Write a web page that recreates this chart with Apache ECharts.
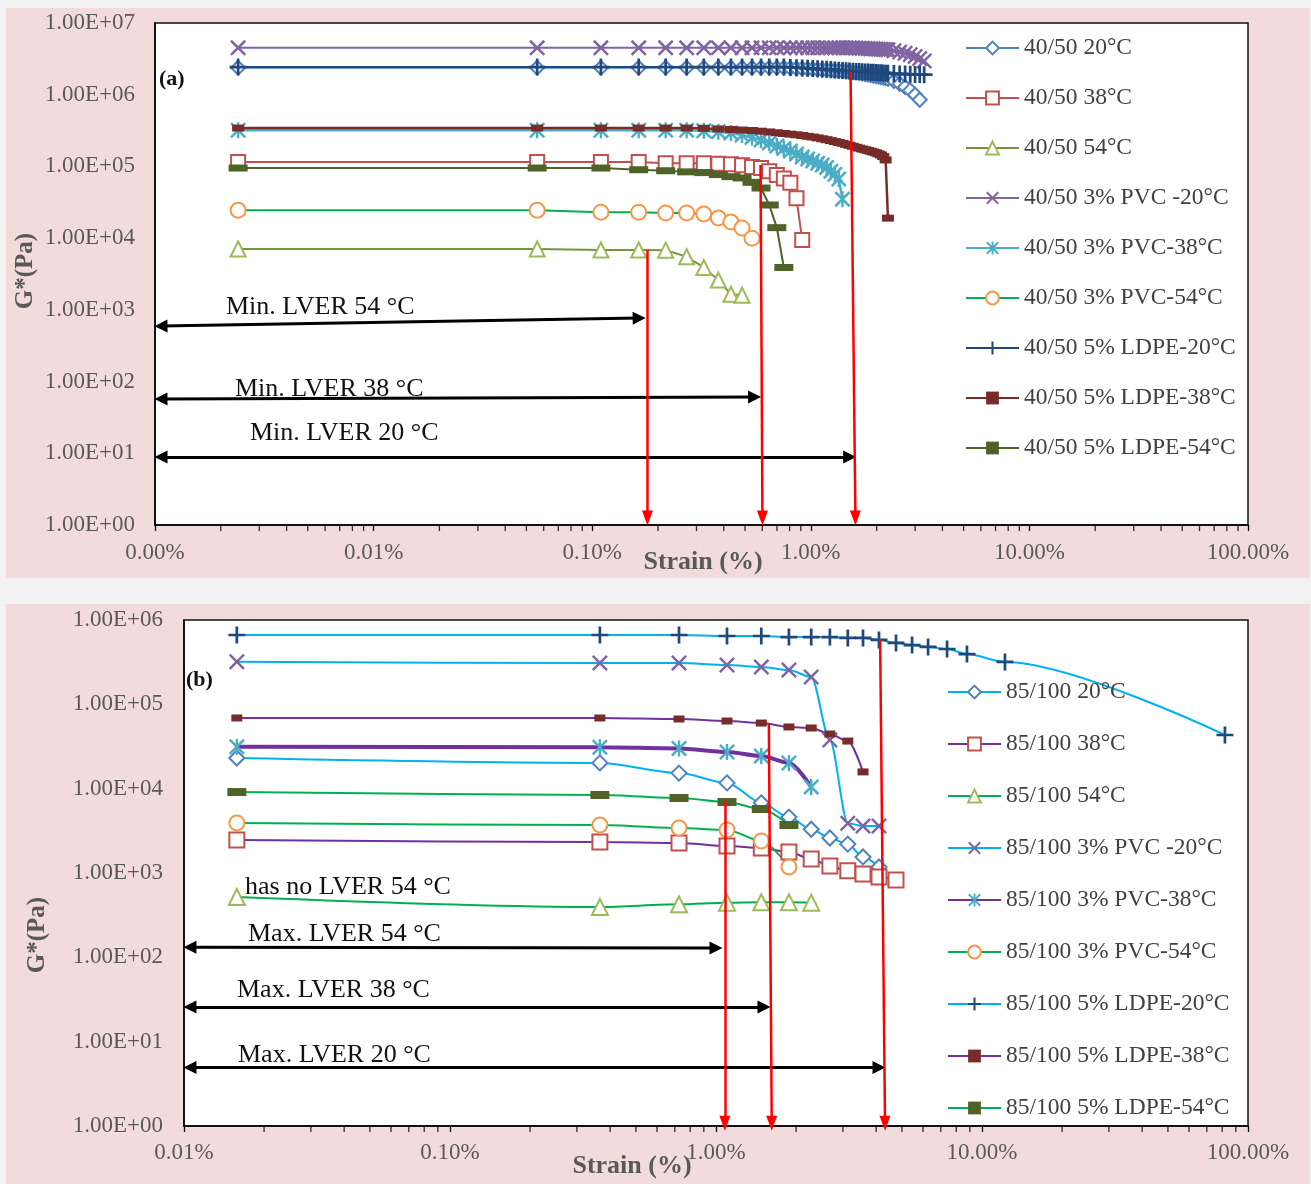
<!DOCTYPE html>
<html><head><meta charset="utf-8">
<script src="https://cdn.jsdelivr.net/npm/echarts/dist/echarts.min.js"></script>
<style>html,body{margin:0;padding:0;background:#f2f2f2}#c{width:1311px;height:1184px}</style>
</head><body><div id="c"></div>
<script>
// ================= DATA =================
// ---- Panel (a): 40/50 binder, strain (%) grid ----
const strainA = [0.0024, 0.056, 0.1096, 0.1632, 0.2168, 0.2704, 0.324, 0.3776, 0.4312, 0.4848,
  0.5384, 0.592, 0.6456, 0.6992, 0.7528, 0.8064, 0.86, 0.9136, 0.9672, 1.0208,
  1.0744, 1.128, 1.1816, 1.2352, 1.2888, 1.3424, 1.396, 1.4496, 1.5032, 1.5568,
  1.6104, 1.664, 1.7176, 1.7712, 1.8248, 1.8784, 1.932, 1.9856, 2.0392, 2.0928,
  2.1464, 2.2, 2.2536, 2.40, 2.55, 2.70, 2.85, 3.00, 3.15, 3.30];

const namesA = ['40/50 20°C', '40/50 38°C', '40/50 54°C', '40/50 3% PVC -20°C', '40/50 3% PVC-38°C',
  '40/50 3% PVC-54°C', '40/50 5% LDPE-20°C', '40/50 5% LDPE-38°C', '40/50 5% LDPE-54°C'];

const a20 = [2.38e6, 2.38e6, 2.38e6, 2.38e6, 2.38e6, 2.38e6, 2.38e6, 2.38e6, 2.38e6, 2.38e6,
  2.38e6, 2.38e6, 2.38e6, 2.38e6, 2.38e6, 2.35e6, 2.33e6, 2.31e6, 2.29e6, 2.27e6,
  2.25e6, 2.23e6, 2.21e6, 2.19e6, 2.17e6, 2.15e6, 2.13e6, 2.11e6, 2.08e6, 2.05e6,
  2.03e6, 2.00e6, 1.97e6, 1.94e6, 1.91e6, 1.88e6, 1.85e6, 1.82e6, 1.79e6, 1.76e6,
  1.73e6, 1.70e6, 1.67e6, 1.55e6, 1.42e6, 1.28e6, 1.15e6, 1.00e6, 8.5e5];
const a38 = [1.15e5, 1.15e5, 1.15e5, 1.15e5, 1.11e5, 1.11e5, 1.11e5, 1.09e5, 1.07e5, 1.04e5,
  9.8e4, 9.5e4, 8.6e4, 7.6e4, 6.8e4, 5.9e4, 3.6e4, 9.4e3];
const a54 = [7050, 7050, 6830, 6830, 6800, 5500, 3900, 2600, 1650, 1600];
const aPvc20 = [4.5e6, 4.5e6, 4.5e6, 4.5e6, 4.5e6, 4.5e6, 4.5e6, 4.5e6, 4.5e6, 4.5e6,
  4.5e6, 4.5e6, 4.5e6, 4.5e6, 4.5e6, 4.5e6, 4.5e6, 4.5e6, 4.5e6, 4.5e6,
  4.5e6, 4.5e6, 4.5e6, 4.5e6, 4.5e6, 4.5e6, 4.5e6, 4.5e6, 4.5e6, 4.5e6,
  4.48e6, 4.46e6, 4.44e6, 4.42e6, 4.40e6, 4.38e6, 4.36e6, 4.34e6, 4.32e6, 4.30e6,
  4.28e6, 4.26e6, 4.24e6, 4.1e6, 3.95e6, 3.8e6, 3.6e6, 3.4e6, 3.2e6, 2.95e6];
const aPvc38 = [3.2e5, 3.2e5, 3.2e5, 3.2e5, 3.2e5, 3.2e5, 3.15e5, 3.05e5, 2.92e5, 2.74e5,
  2.53e5, 2.33e5, 2.12e5, 1.93e5, 1.78e5, 1.64e5, 1.49e5, 1.35e5, 1.27e5, 1.19e5,
  1.11e5, 1.05e5, 9.7e4, 8.6e4, 7.8e4, 6.7e4, 3.5e4];
const aPvc54 = [2.45e4, 2.45e4, 2.3e4, 2.3e4, 2.25e4, 2.25e4, 2.17e4, 1.91e4, 1.68e4, 1.38e4, 1.0e4];
const aLdpe20 = [2.43e6, 2.43e6, 2.43e6, 2.43e6, 2.43e6, 2.43e6, 2.43e6, 2.43e6, 2.43e6, 2.43e6,
  2.43e6, 2.43e6, 2.43e6, 2.43e6, 2.43e6, 2.40e6, 2.38e6, 2.36e6, 2.34e6, 2.32e6,
  2.30e6, 2.28e6, 2.26e6, 2.24e6, 2.22e6, 2.20e6, 2.18e6, 2.16e6, 2.14e6, 2.12e6,
  2.11e6, 2.10e6, 2.09e6, 2.08e6, 2.07e6, 2.06e6, 2.05e6, 2.04e6, 2.03e6, 2.02e6,
  2.01e6, 2.00e6, 1.99e6, 1.97e6, 1.95e6, 1.94e6, 1.93e6, 1.92e6, 1.91e6, 1.90e6];
const aLdpe38 = [3.43e5, 3.43e5, 3.43e5, 3.43e5, 3.43e5, 3.43e5, 3.40e5, 3.33e5, 3.27e5, 3.22e5,
  3.17e5, 3.10e5, 3.03e5, 2.95e5, 2.88e5, 2.82e5, 2.76e5, 2.70e5, 2.63e5, 2.57e5,
  2.50e5, 2.43e5, 2.36e5, 2.29e5, 2.22e5, 2.16e5, 2.10e5, 2.03e5, 1.97e5, 1.91e5,
  1.85e5, 1.80e5, 1.75e5, 1.71e5, 1.67e5, 1.63e5, 1.59e5, 1.55e5, 1.50e5, 1.45e5,
  1.37e5, 1.23e5, 1.9e4];
const aLdpe54 = [9.5e4, 9.5e4, 9.5e4, 9.0e4, 8.7e4, 8.4e4, 8.2e4, 7.7e4, 7.2e4, 6.9e4,
  6.0e4, 5.0e4, 2.9e4, 1.4e4, 3.9e3];
const valuesA = [a20, a38, a54, aPvc20, aPvc38, aPvc54, aLdpe20, aLdpe38, aLdpe54];

// ---- Panel (b): 85/100 binder ----
const strainB = [0.0158, 0.366, 0.726, 1.10, 1.48, 1.88, 2.28, 2.68, 3.13, 3.57,
  4.10, 4.75, 5.46, 6.27, 7.39, 8.78, 12.2, 81.9];
const namesB = ['85/100 20°C', '85/100 38°C', '85/100 54°C', '85/100 3% PVC -20°C', '85/100 3% PVC-38°C',
  '85/100 3% PVC-54°C', '85/100 5% LDPE-20°C', '85/100 5% LDPE-38°C', '85/100 5% LDPE-54°C'];
const b20 = [2.31e4, 2.02e4, 1.53e4, 1.17e4, 6.8e3, 4.6e3, 3.3e3, 2.6e3, 2.2e3, 1.55e3, 1.18e3];
const b38 = [2.46e3, 2.33e3, 2.27e3, 2.09e3, 1.98e3, 1.77e3, 1.47e3, 1.21e3, 1.06e3, 973, 897, 826];
const b54 = [520, 395, 425, 445, 450, 450, 445];
const bPvc20 = [3.2e5, 3.09e5, 3.09e5, 2.93e5, 2.77e5, 2.55e5, 2.11e5, 3.78e4, 3.9e3, 3.6e3, 3.6e3];
const bPvc38 = [3.15e4, 3.1e4, 3.0e4, 2.72e4, 2.44e4, 2.02e4, 1.05e4];
const bPvc54 = [3.92e3, 3.71e3, 3.42e3, 3.24e3, 2.4e3, 1.18e3];
const bLdpe20 = [6.64e5, 6.64e5, 6.64e5, 6.46e5, 6.46e5, 6.28e5, 6.28e5, 6.28e5, 6.12e5, 6.12e5,
  5.8e5, 5.34e5, 5.05e5, 4.79e5, 4.53e5, 3.95e5, 3.18e5, 4.33e4];
const bLdpe38 = [6.89e4, 6.89e4, 6.7e4, 6.34e4, 6.0e4, 5.39e4, 5.24e4, 4.45e4, 3.67e4, 1.58e4];
const bLdpe54 = [9.12e3, 8.41e3, 7.75e3, 6.95e3, 5.74e3, 3.71e3];
const valuesB = [b20, b38, b54, bPvc20, bPvc38, bPvc54, bLdpe20, bLdpe38, bLdpe54];

// ---- Annotation arrows (strain %, G* Pa) ----
const redArrowsA = [[[0.179, 6900], [0.179, 1.25]], [[0.589, 1.05e5], [0.601, 1.25]], [[1.52, 2.07e6], [1.60, 1.25]]];
const blackArrowsA = [[[0.001065, 594], [0.164, 769]], [[0.001065, 57], [0.553, 61]], [[0.001065, 8.85], [1.505, 8.85]]];
const redArrowsB = [[[1.08, 6.95e3], [1.08, 1.08]], [[1.58, 6.0e4], [1.62, 1.08]], [[4.14, 5.96e5], [4.32, 1.08]]];
const blackArrowsB = [[[0.01053, 132], [1.0, 129]], [[0.01053, 25.8], [1.515, 25.8]], [[0.01053, 4.94], [4.10, 4.94]]];

// ================= STYLES =================
const PLUS = 'path://M-1.6,-10L1.6,-10L1.6,-1.6L10,-1.6L10,1.6L1.6,1.6L1.6,10L-1.6,10L-1.6,1.6L-10,1.6L-10,-1.6L-1.6,-1.6Z';
const CROSS = 'path://M-10,-7.8L-7.8,-10L10,7.8L7.8,10ZM7.8,-10L10,-7.8L-7.8,10L-10,7.8Z';
const STAR = 'path://M-10,-7.8L-7.8,-10L10,7.8L7.8,10ZM7.8,-10L10,-7.8L-7.8,10L-10,7.8ZM-1.5,-10L1.5,-10L1.5,10L-1.5,10Z';

const styleA = [
  {sym: 'diamond', size: 14, hollow: true, mark: '#4f81bd', line: '#4f81bd', lw: 2},
  {sym: 'rect', size: 14, hollow: true, mark: '#c0504d', line: '#c0504d', lw: 2},
  {sym: 'triangle', size: 15, hollow: true, mark: '#9bbb59', line: '#77933c', lw: 2},
  {sym: CROSS, size: 16, mark: '#8064a2', line: '#8064a2', lw: 2},
  {sym: STAR, size: 16, mark: '#4bacc6', line: '#4bacc6', lw: 2.5},
  {sym: 'circle', size: 15, hollow: true, mark: '#f79646', line: '#00b050', lw: 2},
  {sym: PLUS, size: 17, mark: '#1f497d', line: '#1f497d', lw: 2},
  {sym: 'rect', size: [12, 7], mark: '#772c2a', line: '#772c2a', lw: 2.5},
  {sym: 'rect', size: [19, 7], mark: '#4f6228', line: '#4f6228', lw: 2}
];
const styleB = [
  {sym: 'diamond', size: 15, hollow: true, mark: '#4f81bd', line: '#00b0f0', lw: 2},
  {sym: 'rect', size: 15, hollow: true, mark: '#c0504d', line: '#7030a0', lw: 2},
  {sym: 'triangle', size: 16, hollow: true, mark: '#9bbb59', line: '#00b050', lw: 2},
  {sym: CROSS, size: 16, mark: '#8064a2', line: '#00b0f0', lw: 2},
  {sym: STAR, size: 16, mark: '#4bacc6', line: '#7030a0', lw: 4},
  {sym: 'circle', size: 15, hollow: true, mark: '#f79646', line: '#00b050', lw: 2},
  {sym: PLUS, size: 17, mark: '#1f497d', line: '#00b0f0', lw: 2},
  {sym: 'rect', size: [11, 7], mark: '#772c2a', line: '#7030a0', lw: 2},
  {sym: 'rect', size: [19, 8], mark: '#4f6228', line: '#00b050', lw: 2}
];

const FONT = '"Liberation Serif", "Times New Roman", serif';

function mkSeries(name, xs, ys, st, idx, smooth) {
  return {
    name: name, type: 'line', xAxisIndex: idx, yAxisIndex: idx,
    data: ys.map((y, i) => [xs[i], y]),
    symbol: st.sym, symbolSize: st.size, symbolKeepAspect: true,
    smooth: smooth ? 0.3 : false, smoothMonotone: 'x',
    lineStyle: {color: st.line, width: st.lw},
    itemStyle: st.hollow ? {color: '#ffffff', borderColor: st.mark, borderWidth: 2}
                         : {color: st.mark, borderWidth: 0},
    emphasis: {disabled: true}, animation: false, clip: false
  };
}

function minorTicks(lo, hi) {
  const out = [];
  for (let e = lo; e < hi; e++) for (let k = 2; k <= 9; k++) out.push([k * Math.pow(10, e), 1]);
  return out;
}

function arrowLines(list) {
  return list.map(p => [{coord: p[0]}, {coord: p[1]}]);
}

function tickSeries(idx, minor) {
  return {
    type: 'scatter', xAxisIndex: idx, yAxisIndex: idx, silent: true, clip: false,
    data: minor, symbol: 'rect', symbolSize: [1.3, 6], symbolOffset: [0, 3],
    itemStyle: {color: '#000'}, animation: false, z: 1
  };
}

function markLineSeries(idx, list, color, width, symSize, bothEnds) {
  return {
    type: 'line', xAxisIndex: idx, yAxisIndex: idx, data: [], silent: true, animation: false,
    markLine: {
      silent: true, animation: false, label: {show: false}, emphasis: {disabled: true},
      symbol: bothEnds ? ['triangle', 'triangle'] : ['none', 'triangle'],
      symbolSize: symSize,
      lineStyle: {color: color, width: width, type: 'solid'},
      data: arrowLines(list)
    }
  };
}

const fmtPct = v => v.toFixed(2) + '%';
const fmtExp = v => {
  const e = Math.round(Math.log10(v));
  return '1.00E' + (e < 0 ? '-' : '+') + String(Math.abs(e)).padStart(2, '0');
};

function xAxisCfg(idx, min, max, margin) {
  return {
    gridIndex: idx, type: 'log', logBase: 10, min: min, max: max,
    axisLine: {show: true, onZero: false, lineStyle: {color: '#000', width: 1.5}},
    axisTick: {show: true, inside: false, length: 6, lineStyle: {color: '#000', width: 1.3}},
    axisLabel: {formatter: fmtPct, fontFamily: FONT, fontSize: 23, color: '#595959', margin: margin},
    splitLine: {show: false}, minorTick: {show: false}
  };
}
function yAxisCfg(idx, min, max, margin) {
  return {
    gridIndex: idx, type: 'log', logBase: 10, min: min, max: max,
    axisLine: {show: true, onZero: false, lineStyle: {color: '#000', width: 1.5}},
    axisTick: {show: false},
    axisLabel: {formatter: fmtExp, fontFamily: FONT, fontSize: 23, color: '#595959', margin: margin},
    splitLine: {show: false}
  };
}

function txt(s, x, y, size, opts) {
  opts = opts || {};
  return {
    type: 'text', x: x, y: y, rotation: opts.rot || 0, z: 50,
    style: {
      text: s, fill: opts.color || '#111',
      font: (opts.bold ? 'bold ' : '') + size + 'px ' + FONT,
      align: opts.align || 'left', verticalAlign: 'middle',
      textAlign: opts.align || 'left', textVerticalAlign: 'middle'
    }
  };
}

const series = [];
namesA.forEach((n, i) => series.push(mkSeries(n, strainA, valuesA[i], styleA[i], 0, false)));
namesB.forEach((n, i) => series.push(mkSeries(n, strainB, valuesB[i], styleB[i], 1, true)));
series.push(tickSeries(0, minorTicks(-3, 2)));
series.push(tickSeries(1, minorTicks(-2, 2)));
series.push(markLineSeries(0, blackArrowsA, '#000', 3, [13, 13], true));
series.push(markLineSeries(0, redArrowsA, '#ff0000', 2.5, [11, 15], false));
series.push(markLineSeries(1, blackArrowsB, '#000', 3, [13, 13], true));
series.push(markLineSeries(1, redArrowsB, '#ff0000', 2.5, [11, 15], false));

const legendText = {fontFamily: FONT, fontSize: 23.5, color: '#404040', lineHeight: 24};

const option = {
  animation: false,
  backgroundColor: '#f2f2f2',
  grid: [
    {left: 155, top: 23, width: 1093, height: 502, show: true, backgroundColor: '#fff', borderColor: '#111', borderWidth: 1.5},
    {left: 184, top: 620, width: 1064, height: 506, show: true, backgroundColor: '#fff', borderColor: '#111', borderWidth: 1.5}
  ],
  xAxis: [xAxisCfg(0, 0.001, 100, 16), xAxisCfg(1, 0.01, 100, 15)],
  yAxis: [yAxisCfg(0, 1, 1e7, 20), yAxisCfg(1, 1, 1e6, 21)],
  legend: [
    {data: namesA, orient: 'vertical', left: 965, top: 36, padding: 0, itemWidth: 53, itemHeight: 16, itemGap: 26,
     textStyle: legendText, selectedMode: false, backgroundColor: 'transparent'},
    {data: namesB, orient: 'vertical', left: 947, top: 680, padding: 0, itemWidth: 53, itemHeight: 16, itemGap: 28,
     textStyle: legendText, selectedMode: false, backgroundColor: 'transparent'}
  ],
  graphic: [
    {type: 'rect', shape: {x: 6, y: 8, width: 1304, height: 570}, style: {fill: '#f2dcdb'}, z: -100, silent: true},
    {type: 'rect', shape: {x: 6, y: 604, width: 1304, height: 580}, style: {fill: '#f2dcdb'}, z: -100, silent: true},
    txt('(a)', 159, 79, 22, {bold: true}),
    txt('Min. LVER 54 °C', 226, 307, 26),
    txt('Min. LVER 38 °C', 235, 389, 26),
    txt('Min. LVER 20 °C', 250, 433, 26),
    txt('Strain (%)', 703, 562, 26, {bold: true, align: 'center', color: '#595959'}),
    txt('G*(Pa)', 26, 271, 25, {bold: true, align: 'center', color: '#595959', rot: Math.PI / 2}),
    txt('(b)', 186, 680, 22, {bold: true}),
    txt('has no LVER 54 °C', 245, 887, 26),
    txt('Max. LVER 54 °C', 248, 934, 26),
    txt('Max. LVER 38 °C', 237, 990, 26),
    txt('Max. LVER 20 °C', 238, 1055, 26),
    txt('Strain (%)', 632, 1166, 26, {bold: true, align: 'center', color: '#595959'}),
    txt('G*(Pa)', 38, 935, 25, {bold: true, align: 'center', color: '#595959', rot: Math.PI / 2})
  ],
  series: series
};

const chart = echarts.init(document.getElementById('c'), null, {renderer: 'canvas'});
chart.setOption(option);
</script>
</body></html>
